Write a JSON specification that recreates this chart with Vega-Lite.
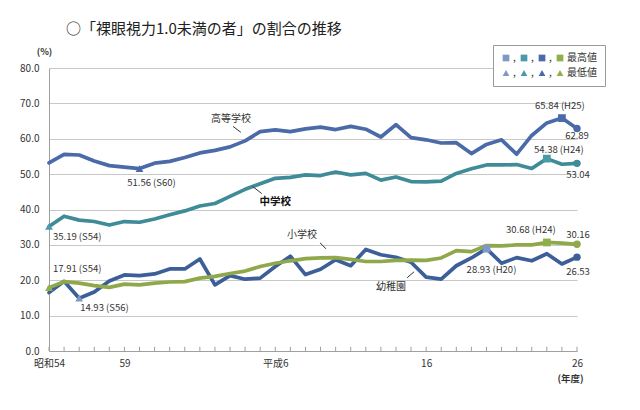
{
  "$schema": "https://vega.github.io/schema/vega-lite/v6.json",
  "width": 528,
  "height": 283,
  "autosize": {"type": "none"},
  "padding": {"left": 49, "top": 68, "right": 63, "bottom": 59},
  "background": "white",
  "config": {
    "view": {"stroke": null},
    "font": "Noto Sans CJK JP",
    "text": {"font": "Noto Sans CJK JP"}
  },
  "title": {
    "text": "○「裸眼視力1.0未満の者」の割合の推移",
    "anchor": "start",
    "frame": "group",
    "dx": 17,
    "fontSize": 15,
    "fontWeight": "normal",
    "font": "Noto Sans CJK JP",
    "color": "#222222",
    "offset": 8
  },
  "datasets": {
    "rates": [
      {"school": "幼稚園", "year": 1979, "rate": 16.5},
      {"school": "幼稚園", "year": 1980, "rate": 19.7},
      {"school": "幼稚園", "year": 1981, "rate": 14.93},
      {"school": "幼稚園", "year": 1982, "rate": 16.7},
      {"school": "幼稚園", "year": 1983, "rate": 19.8},
      {"school": "幼稚園", "year": 1984, "rate": 21.5},
      {"school": "幼稚園", "year": 1985, "rate": 21.3},
      {"school": "幼稚園", "year": 1986, "rate": 21.8},
      {"school": "幼稚園", "year": 1987, "rate": 23.2},
      {"school": "幼稚園", "year": 1988, "rate": 23.2},
      {"school": "幼稚園", "year": 1989, "rate": 26.0},
      {"school": "幼稚園", "year": 1990, "rate": 18.7},
      {"school": "幼稚園", "year": 1991, "rate": 21.3},
      {"school": "幼稚園", "year": 1992, "rate": 20.3},
      {"school": "幼稚園", "year": 1993, "rate": 20.6},
      {"school": "幼稚園", "year": 1994, "rate": 23.9},
      {"school": "幼稚園", "year": 1995, "rate": 26.8},
      {"school": "幼稚園", "year": 1996, "rate": 21.6},
      {"school": "幼稚園", "year": 1997, "rate": 23.1},
      {"school": "幼稚園", "year": 1998, "rate": 25.8},
      {"school": "幼稚園", "year": 1999, "rate": 24.1},
      {"school": "幼稚園", "year": 2000, "rate": 28.7},
      {"school": "幼稚園", "year": 2001, "rate": 27.2},
      {"school": "幼稚園", "year": 2002, "rate": 26.5},
      {"school": "幼稚園", "year": 2003, "rate": 25.1},
      {"school": "幼稚園", "year": 2004, "rate": 20.9},
      {"school": "幼稚園", "year": 2005, "rate": 20.3},
      {"school": "幼稚園", "year": 2006, "rate": 24.1},
      {"school": "幼稚園", "year": 2007, "rate": 26.3},
      {"school": "幼稚園", "year": 2008, "rate": 28.93},
      {"school": "幼稚園", "year": 2009, "rate": 24.8},
      {"school": "幼稚園", "year": 2010, "rate": 26.4},
      {"school": "幼稚園", "year": 2011, "rate": 25.5},
      {"school": "幼稚園", "year": 2012, "rate": 27.5},
      {"school": "幼稚園", "year": 2013, "rate": 24.6},
      {"school": "幼稚園", "year": 2014, "rate": 26.53},
      {"school": "小学校", "year": 1979, "rate": 17.91},
      {"school": "小学校", "year": 1980, "rate": 19.6},
      {"school": "小学校", "year": 1981, "rate": 19.2},
      {"school": "小学校", "year": 1982, "rate": 18.5},
      {"school": "小学校", "year": 1983, "rate": 18.0},
      {"school": "小学校", "year": 1984, "rate": 18.9},
      {"school": "小学校", "year": 1985, "rate": 18.7},
      {"school": "小学校", "year": 1986, "rate": 19.2},
      {"school": "小学校", "year": 1987, "rate": 19.5},
      {"school": "小学校", "year": 1988, "rate": 19.6},
      {"school": "小学校", "year": 1989, "rate": 20.6},
      {"school": "小学校", "year": 1990, "rate": 21.1},
      {"school": "小学校", "year": 1991, "rate": 21.9},
      {"school": "小学校", "year": 1992, "rate": 22.6},
      {"school": "小学校", "year": 1993, "rate": 23.9},
      {"school": "小学校", "year": 1994, "rate": 24.8},
      {"school": "小学校", "year": 1995, "rate": 25.5},
      {"school": "小学校", "year": 1996, "rate": 26.1},
      {"school": "小学校", "year": 1997, "rate": 26.3},
      {"school": "小学校", "year": 1998, "rate": 26.4},
      {"school": "小学校", "year": 1999, "rate": 25.9},
      {"school": "小学校", "year": 2000, "rate": 25.3},
      {"school": "小学校", "year": 2001, "rate": 25.3},
      {"school": "小学校", "year": 2002, "rate": 25.6},
      {"school": "小学校", "year": 2003, "rate": 25.7},
      {"school": "小学校", "year": 2004, "rate": 25.6},
      {"school": "小学校", "year": 2005, "rate": 26.3},
      {"school": "小学校", "year": 2006, "rate": 28.4},
      {"school": "小学校", "year": 2007, "rate": 28.1},
      {"school": "小学校", "year": 2008, "rate": 29.8},
      {"school": "小学校", "year": 2009, "rate": 29.7},
      {"school": "小学校", "year": 2010, "rate": 30.0},
      {"school": "小学校", "year": 2011, "rate": 30.0},
      {"school": "小学校", "year": 2012, "rate": 30.68},
      {"school": "小学校", "year": 2013, "rate": 30.5},
      {"school": "小学校", "year": 2014, "rate": 30.16},
      {"school": "中学校", "year": 1979, "rate": 35.19},
      {"school": "中学校", "year": 1980, "rate": 38.1},
      {"school": "中学校", "year": 1981, "rate": 37.0},
      {"school": "中学校", "year": 1982, "rate": 36.6},
      {"school": "中学校", "year": 1983, "rate": 35.6},
      {"school": "中学校", "year": 1984, "rate": 36.6},
      {"school": "中学校", "year": 1985, "rate": 36.4},
      {"school": "中学校", "year": 1986, "rate": 37.3},
      {"school": "中学校", "year": 1987, "rate": 38.5},
      {"school": "中学校", "year": 1988, "rate": 39.6},
      {"school": "中学校", "year": 1989, "rate": 41.0},
      {"school": "中学校", "year": 1990, "rate": 41.7},
      {"school": "中学校", "year": 1991, "rate": 43.7},
      {"school": "中学校", "year": 1992, "rate": 45.7},
      {"school": "中学校", "year": 1993, "rate": 47.3},
      {"school": "中学校", "year": 1994, "rate": 48.8},
      {"school": "中学校", "year": 1995, "rate": 49.1},
      {"school": "中学校", "year": 1996, "rate": 49.8},
      {"school": "中学校", "year": 1997, "rate": 49.6},
      {"school": "中学校", "year": 1998, "rate": 50.6},
      {"school": "中学校", "year": 1999, "rate": 49.8},
      {"school": "中学校", "year": 2000, "rate": 50.2},
      {"school": "中学校", "year": 2001, "rate": 48.3},
      {"school": "中学校", "year": 2002, "rate": 49.2},
      {"school": "中学校", "year": 2003, "rate": 47.9},
      {"school": "中学校", "year": 2004, "rate": 47.8},
      {"school": "中学校", "year": 2005, "rate": 48.0},
      {"school": "中学校", "year": 2006, "rate": 50.2},
      {"school": "中学校", "year": 2007, "rate": 51.5},
      {"school": "中学校", "year": 2008, "rate": 52.6},
      {"school": "中学校", "year": 2009, "rate": 52.6},
      {"school": "中学校", "year": 2010, "rate": 52.7},
      {"school": "中学校", "year": 2011, "rate": 51.6},
      {"school": "中学校", "year": 2012, "rate": 54.38},
      {"school": "中学校", "year": 2013, "rate": 52.79},
      {"school": "中学校", "year": 2014, "rate": 53.04},
      {"school": "高等学校", "year": 1979, "rate": 53.2},
      {"school": "高等学校", "year": 1980, "rate": 55.6},
      {"school": "高等学校", "year": 1981, "rate": 55.4},
      {"school": "高等学校", "year": 1982, "rate": 53.7},
      {"school": "高等学校", "year": 1983, "rate": 52.4},
      {"school": "高等学校", "year": 1984, "rate": 52.0},
      {"school": "高等学校", "year": 1985, "rate": 51.56},
      {"school": "高等学校", "year": 1986, "rate": 53.1},
      {"school": "高等学校", "year": 1987, "rate": 53.6},
      {"school": "高等学校", "year": 1988, "rate": 54.7},
      {"school": "高等学校", "year": 1989, "rate": 56.0},
      {"school": "高等学校", "year": 1990, "rate": 56.7},
      {"school": "高等学校", "year": 1991, "rate": 57.7},
      {"school": "高等学校", "year": 1992, "rate": 59.4},
      {"school": "高等学校", "year": 1993, "rate": 62.0},
      {"school": "高等学校", "year": 1994, "rate": 62.5},
      {"school": "高等学校", "year": 1995, "rate": 62.0},
      {"school": "高等学校", "year": 1996, "rate": 62.8},
      {"school": "高等学校", "year": 1997, "rate": 63.3},
      {"school": "高等学校", "year": 1998, "rate": 62.6},
      {"school": "高等学校", "year": 1999, "rate": 63.5},
      {"school": "高等学校", "year": 2000, "rate": 62.7},
      {"school": "高等学校", "year": 2001, "rate": 60.5},
      {"school": "高等学校", "year": 2002, "rate": 64.0},
      {"school": "高等学校", "year": 2003, "rate": 60.3},
      {"school": "高等学校", "year": 2004, "rate": 59.7},
      {"school": "高等学校", "year": 2005, "rate": 58.8},
      {"school": "高等学校", "year": 2006, "rate": 58.9},
      {"school": "高等学校", "year": 2007, "rate": 55.8},
      {"school": "高等学校", "year": 2008, "rate": 58.4},
      {"school": "高等学校", "year": 2009, "rate": 59.7},
      {"school": "高等学校", "year": 2010, "rate": 55.64},
      {"school": "高等学校", "year": 2011, "rate": 60.93},
      {"school": "高等学校", "year": 2012, "rate": 64.47},
      {"school": "高等学校", "year": 2013, "rate": 65.84},
      {"school": "高等学校", "year": 2014, "rate": 62.89}
    ],
    "extremes": [
      {"marker": "幼稚園・最高値", "year": 2008, "rate": 28.93},
      {"marker": "中学校・最高値", "year": 2012, "rate": 54.38},
      {"marker": "高等学校・最高値", "year": 2013, "rate": 65.84},
      {"marker": "小学校・最高値", "year": 2012, "rate": 30.68},
      {"marker": "幼稚園・最低値", "year": 1981, "rate": 14.93},
      {"marker": "中学校・最低値", "year": 1979, "rate": 35.19},
      {"marker": "高等学校・最低値", "year": 1985, "rate": 51.56},
      {"marker": "小学校・最低値", "year": 1979, "rate": 17.91}
    ],
    "names": [
      {"name": "高等学校", "year": 1991.06, "rate": 65.7},
      {"name": "小学校", "year": 1995.77, "rate": 32.9},
      {"name": "幼稚園", "year": 2001.67, "rate": 18.1}
    ],
    "pointers": [
      {"name": "高等学校", "year": 1991.2, "rate": 63.5, "year2": 1991.72, "rate2": 61.8},
      {"name": "中学校", "year": 1992.5, "rate": 46.5, "year2": 1993.1, "rate2": 44.5},
      {"name": "小学校", "year": 1996.96, "rate": 30.6, "year2": 1997.36, "rate2": 28.9},
      {"name": "幼稚園", "year": 2002.74, "rate": 20.7, "year2": 2003.2, "rate2": 22.4}
    ]
  },
  "layer": [
    {
      "data": {"name": "rates"},
      "mark": {"type": "line", "strokeWidth": 3.7, "strokeJoin": "round", "strokeCap": "round"},
      "encoding": {
        "x": {
          "field": "year",
          "type": "quantitative",
          "scale": {"domain": [1979, 2014], "nice": false, "zero": false},
          "axis": {
            "values": [1979, 1984, 1994, 2004, 2014],
            "tickCount": 40,
            "labelExpr": "datum.value == 1979 ? '昭和54' : datum.value == 1984 ? '59' : datum.value == 1994 ? '平成6' : datum.value == 2004 ? '16' : '26'",
            "labelOverlap": false,
            "labelFlush": false,
            "labelBound": false,
            "labelFontSize": 10,
            "labelColor": "#333333",
            "labelPadding": 7,
            "ticks": false,
            "grid": false,
            "domainColor": "#a0a0a0",
            "title": "(年度)",
            "titleFontSize": 9.5,
            "titleFontWeight": "bold",
            "titleColor": "#333333",
            "titleX": 521,
            "titleY": 27,
            "titleAlign": "center",
            "titleBaseline": "middle"
          }
        },
        "y": {
          "field": "rate",
          "type": "quantitative",
          "scale": {"domain": [0, 80], "nice": false},
          "axis": {
            "values": [0, 10, 20, 30, 40, 50, 60, 70, 80],
            "tickCount": 20,
            "format": ".1f",
            "labelOverlap": false,
            "labelFontSize": 10,
            "labelColor": "#333333",
            "labelPadding": 10,
            "ticks": false,
            "gridColor": "#c8c8c8",
            "gridWidth": 1,
            "domainColor": "#a0a0a0",
            "title": "(%)",
            "titleAngle": 0,
            "titleFontSize": 9,
            "titleFontWeight": "bold",
            "titleColor": "#333333",
            "titleX": -5,
            "titleY": -17,
            "titleAlign": "center",
            "titleBaseline": "middle"
          }
        },
        "color": {
          "field": "school",
          "type": "nominal",
          "scale": {"domain": ["高等学校", "中学校", "小学校", "幼稚園"], "range": ["#4a6aa8", "#3f8b98", "#8fa84a", "#3d5f99"]},
          "legend": null
        }
      }
    },
    {
      "data": {"name": "rates"},
      "transform": [{"filter": "datum.school == '高等学校'"}],
      "mark": {"type": "rule", "color": "#a0a0a0", "strokeWidth": 1},
      "encoding": {
        "x": {"field": "year", "type": "quantitative"},
        "y": {"datum": 0, "type": "quantitative"},
        "y2": {"datum": 1.2}
      }
    },
    {
      "data": {"name": "rates"},
      "transform": [{"filter": "datum.year == 2014"}],
      "mark": {"type": "point", "filled": true, "shape": "circle", "size": 55, "opacity": 1},
      "encoding": {
        "x": {"field": "year", "type": "quantitative"},
        "y": {"field": "rate", "type": "quantitative"},
        "color": {
          "field": "school",
          "type": "nominal",
          "scale": {"domain": ["高等学校", "中学校", "小学校", "幼稚園"], "range": ["#4a6aa8", "#3f8b98", "#8fa84a", "#3d5f99"]},
          "legend": null
        }
      }
    },
    {
      "data": {"name": "extremes"},
      "mark": {"type": "point", "filled": true, "size": 60, "opacity": 1},
      "encoding": {
        "x": {"field": "year", "type": "quantitative"},
        "y": {"field": "rate", "type": "quantitative"},
        "color": {
          "field": "marker",
          "type": "nominal",
          "scale": {
            "domain": ["幼稚園・最高値", "幼稚園・最低値", "中学校・最高値", "中学校・最低値", "高等学校・最高値", "高等学校・最低値", "小学校・最高値", "小学校・最低値"],
            "range": ["#7f98c6", "#7f98c6", "#4a9aa8", "#4a9aa8", "#4a6aaa", "#4a6aaa", "#8db04a", "#8db04a"]
          },
          "legend": {
            "title": null,
            "orient": "none",
            "legendX": 444,
            "legendY": -23,
            "columns": 4,
            "labelExpr": "datum.label == '小学校・最高値' ? '最高値' : datum.label == '小学校・最低値' ? '最低値' : ','",
            "labelFontSize": 10,
            "labelColor": "#333333",
            "labelOffset": 2,
            "columnPadding": 3,
            "rowPadding": 5,
            "symbolSize": 45,
            "symbolStrokeWidth": 0,
            "strokeColor": "#999999",
            "fillColor": "white",
            "padding": 8
          }
        },
        "shape": {
          "field": "marker",
          "type": "nominal",
          "scale": {
            "domain": ["幼稚園・最高値", "幼稚園・最低値", "中学校・最高値", "中学校・最低値", "高等学校・最高値", "高等学校・最低値", "小学校・最高値", "小学校・最低値"],
            "range": ["square", "triangle-up", "square", "triangle-up", "square", "triangle-up", "square", "triangle-up"]
          },
          "legend": {
            "title": null,
            "orient": "none",
            "legendX": 444,
            "legendY": -23,
            "columns": 4,
            "labelExpr": "datum.label == '小学校・最高値' ? '最高値' : datum.label == '小学校・最低値' ? '最低値' : ','",
            "labelFontSize": 10,
            "labelColor": "#333333",
            "labelOffset": 2,
            "columnPadding": 3,
            "rowPadding": 5,
            "symbolSize": 45,
            "symbolStrokeWidth": 0,
            "strokeColor": "#999999",
            "fillColor": "white",
            "padding": 8
          }
        }
      }
    },
    {
      "data": {"name": "pointers"},
      "mark": {"type": "rule", "color": "#333333", "strokeWidth": 1},
      "encoding": {
        "x": {"field": "year", "type": "quantitative"},
        "y": {"field": "rate", "type": "quantitative"},
        "x2": {"field": "year2"},
        "y2": {"field": "rate2"}
      }
    },
    {
      "data": {"name": "names"},
      "mark": {"type": "text", "fontSize": 10, "color": "#333333", "align": "center", "baseline": "middle"},
      "encoding": {
        "x": {"field": "year", "type": "quantitative"},
        "y": {"field": "rate", "type": "quantitative"},
        "text": {"field": "name"}
      }
    },
    {
      "data": {"values": [{"name": "中学校", "year": 1994.0, "rate": 42.2}]},
      "mark": {"type": "text", "fontSize": 10.5, "fontWeight": "bold", "color": "#111111", "align": "center", "baseline": "middle"},
      "encoding": {
        "x": {"field": "year", "type": "quantitative"},
        "y": {"field": "rate", "type": "quantitative"},
        "text": {"field": "name"}
      }
    },
    {
      "data": {"values": [{"label": "51.56 (S60)", "year": 1985, "rate": 51.56}]},
      "mark": {"type": "text", "fontSize": 9.5, "color": "#333333", "align": "center", "baseline": "middle", "dx": 12, "dy": 14},
      "encoding": {"x": {"field": "year", "type": "quantitative"}, "y": {"field": "rate", "type": "quantitative"}, "text": {"field": "label"}}
    },
    {
      "data": {"values": [{"label": "35.19 (S54)", "year": 1979, "rate": 35.19}]},
      "mark": {"type": "text", "fontSize": 9.5, "color": "#333333", "align": "left", "baseline": "middle", "dx": 4, "dy": 10},
      "encoding": {"x": {"field": "year", "type": "quantitative"}, "y": {"field": "rate", "type": "quantitative"}, "text": {"field": "label"}}
    },
    {
      "data": {"values": [{"label": "17.91 (S54)", "year": 1979, "rate": 17.91}]},
      "mark": {"type": "text", "fontSize": 9.5, "color": "#333333", "align": "left", "baseline": "middle", "dx": 4, "dy": -19},
      "encoding": {"x": {"field": "year", "type": "quantitative"}, "y": {"field": "rate", "type": "quantitative"}, "text": {"field": "label"}}
    },
    {
      "data": {"values": [{"label": "14.93 (S56)", "year": 1981, "rate": 14.93}]},
      "mark": {"type": "text", "fontSize": 9.5, "color": "#333333", "align": "left", "baseline": "middle", "dx": 1, "dy": 10},
      "encoding": {"x": {"field": "year", "type": "quantitative"}, "y": {"field": "rate", "type": "quantitative"}, "text": {"field": "label"}}
    },
    {
      "data": {"values": [{"label": "65.84 (H25)", "year": 2013, "rate": 65.84}]},
      "mark": {"type": "text", "fontSize": 9.5, "color": "#333333", "align": "center", "baseline": "middle", "dx": -2, "dy": -12},
      "encoding": {"x": {"field": "year", "type": "quantitative"}, "y": {"field": "rate", "type": "quantitative"}, "text": {"field": "label"}}
    },
    {
      "data": {"values": [{"label": "62.89", "year": 2014, "rate": 62.89}]},
      "mark": {"type": "text", "fontSize": 9.5, "color": "#333333", "align": "center", "baseline": "middle", "dx": 0, "dy": 7},
      "encoding": {"x": {"field": "year", "type": "quantitative"}, "y": {"field": "rate", "type": "quantitative"}, "text": {"field": "label"}}
    },
    {
      "data": {"values": [{"label": "54.38 (H24)", "year": 2012, "rate": 54.38}]},
      "mark": {"type": "text", "fontSize": 9.5, "color": "#333333", "align": "center", "baseline": "middle", "dx": 12, "dy": -9},
      "encoding": {"x": {"field": "year", "type": "quantitative"}, "y": {"field": "rate", "type": "quantitative"}, "text": {"field": "label"}}
    },
    {
      "data": {"values": [{"label": "53.04", "year": 2014, "rate": 53.04}]},
      "mark": {"type": "text", "fontSize": 9.5, "color": "#333333", "align": "center", "baseline": "middle", "dx": 1, "dy": 12},
      "encoding": {"x": {"field": "year", "type": "quantitative"}, "y": {"field": "rate", "type": "quantitative"}, "text": {"field": "label"}}
    },
    {
      "data": {"values": [{"label": "30.68 (H24)", "year": 2012, "rate": 30.68}]},
      "mark": {"type": "text", "fontSize": 9.5, "color": "#333333", "align": "center", "baseline": "middle", "dx": -16, "dy": -12},
      "encoding": {"x": {"field": "year", "type": "quantitative"}, "y": {"field": "rate", "type": "quantitative"}, "text": {"field": "label"}}
    },
    {
      "data": {"values": [{"label": "30.16", "year": 2014, "rate": 30.16}]},
      "mark": {"type": "text", "fontSize": 9.5, "color": "#333333", "align": "center", "baseline": "middle", "dx": 1, "dy": -9},
      "encoding": {"x": {"field": "year", "type": "quantitative"}, "y": {"field": "rate", "type": "quantitative"}, "text": {"field": "label"}}
    },
    {
      "data": {"values": [{"label": "28.93 (H20)", "year": 2008, "rate": 28.93}]},
      "mark": {"type": "text", "fontSize": 9.5, "color": "#333333", "align": "center", "baseline": "middle", "dx": 5, "dy": 21},
      "encoding": {"x": {"field": "year", "type": "quantitative"}, "y": {"field": "rate", "type": "quantitative"}, "text": {"field": "label"}}
    },
    {
      "data": {"values": [{"label": "26.53", "year": 2014, "rate": 26.53}]},
      "mark": {"type": "text", "fontSize": 9.5, "color": "#333333", "align": "center", "baseline": "middle", "dx": 1, "dy": 15},
      "encoding": {"x": {"field": "year", "type": "quantitative"}, "y": {"field": "rate", "type": "quantitative"}, "text": {"field": "label"}}
    }
  ],
  "resolve": {"scale": {"color": "independent", "shape": "independent"}}
}
